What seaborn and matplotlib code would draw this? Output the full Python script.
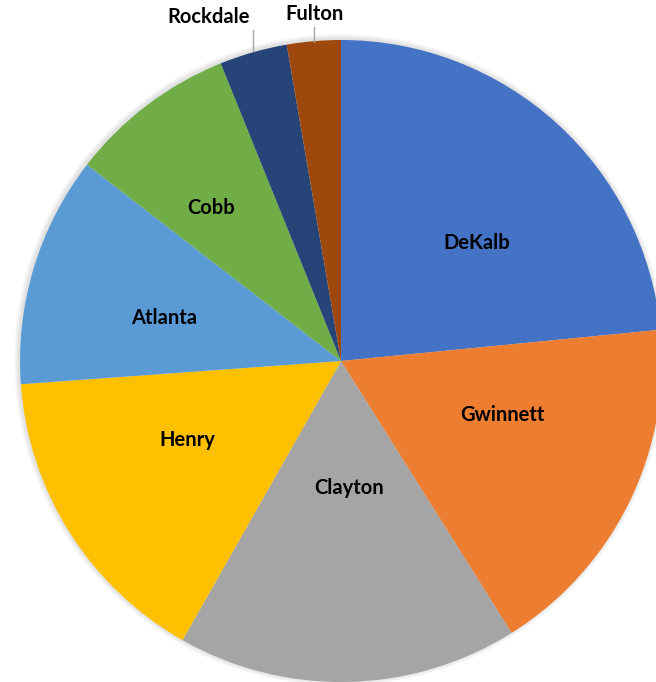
import matplotlib
matplotlib.use("Agg")
import matplotlib.pyplot as plt
from matplotlib.patches import Circle
import seaborn as sns

counties = ["DeKalb", "Gwinnett", "Clayton", "Henry", "Atlanta", "Cobb", "Rockdale", "Fulton"]
shares = [23.4, 17.6, 17.1, 15.6, 11.6, 8.4, 3.4, 2.7]
colors = ["#4472C4", "#ED7D31", "#A5A5A5", "#FFC000", "#5B9BD5", "#70AD47", "#264478", "#9E480E"]

# label centres in pixel coordinates (image space, origin top-left)
label_px = {
    "DeKalb": (477, 243), "Gwinnett": (502, 415), "Clayton": (349, 488),
    "Henry": (187, 440), "Atlanta": (164, 318), "Cobb": (211, 208),
    "Rockdale": (209, 17), "Fulton": (314, 14),
}

sns.set_style("white")
plt.rcParams["font.family"] = ["Lato", "DejaVu Sans"]

W, H = 656, 682
cx, cy, R = 341, 361, 321
fig = plt.figure(figsize=(W / 100, H / 100), dpi=100)
ax = fig.add_axes([0, 0, 1, 1])

# soft shadow behind the pie
for i in range(1, 6):
    ax.add_patch(Circle((-1, 1), R + i, color="black", alpha=0.025, lw=0, zorder=0))

wedges, _ = ax.pie(shares, colors=colors, startangle=90, counterclock=False,
                   radius=R, center=(0, 0), frame=False,
                   wedgeprops=dict(linewidth=0, zorder=1))
ax.set_xlim(-cx, W - cx)
ax.set_ylim(-(H - cy), cy)
ax.set_aspect("equal")
ax.axis("off")

for name in counties:
    px, py = label_px[name]
    ax.text(px - cx, cy - py, name, ha="center", va="center",
            fontsize=14.5, fontweight="bold", color="#000000", zorder=3)

# leader lines for the small slices
ax.plot([253 - cx, 253 - cx], [cy - 30, cy - 51], color="#A6A6A6", lw=1, zorder=3)
ax.plot([314 - cx, 314 - cx], [cy - 27, cy - 42], color="#A6A6A6", lw=1, zorder=3)

fig.savefig("out.png", dpi=100)
